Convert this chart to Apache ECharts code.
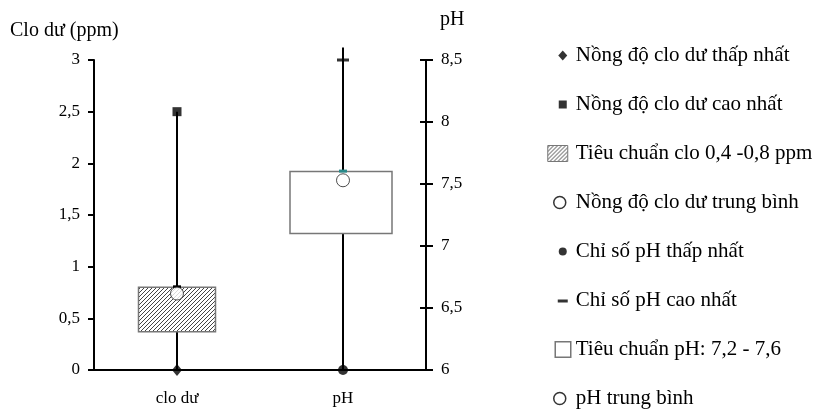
<!DOCTYPE html>
<html>
<head>
<meta charset="utf-8">
<script src="https://cdn.jsdelivr.net/npm/echarts@6/dist/echarts.min.js"></script>
<style>
  html, body { margin: 0; padding: 0; background: #fff; }
  #chart { width: 817px; height: 410px; }
</style>
</head>
<body>
<div id="chart"></div>
<script>
// categories on the x axis
const categories = ["clo dư", "pH"];

// chlorine (ppm, left axis)
const cloMin = 0;
const cloMax = 2.5;
const cloStandard = [0.37, 0.8];
const cloMean = 0.74;

// pH (right axis)
const phMin = 6;
const phMax = 8.5;
const phWhiskerTop = 8.6;
const phStandard = [7.1, 7.6];
const phMean = 7.53;

// legend labels
const legendNames = [
  "Nồng độ clo dư thấp nhất",
  "Nồng độ clo dư cao nhất",
  "Tiêu chuẩn clo 0,4 -0,8 ppm",
  "Nồng độ clo dư trung bình",
  "Chỉ số pH thấp nhất",
  "Chỉ số pH cao nhất",
  "Tiêu chuẩn pH: 7,2 - 7,6",
  "pH trung bình",
];

const FONT = "Liberation Serif";

// hatch pattern for the chlorine standard box
const hatch = document.createElement("canvas");
hatch.width = 4;
hatch.height = 4;
const hctx = hatch.getContext("2d");
hctx.fillStyle = "#fff";
hctx.fillRect(0, 0, 4, 4);
hctx.strokeStyle = "#444";
hctx.lineWidth = 1;
hctx.beginPath();
hctx.moveTo(0, 4); hctx.lineTo(4, 0);
hctx.moveTo(-1, 1); hctx.lineTo(1, -1);
hctx.moveTo(3, 5); hctx.lineTo(5, 3);
hctx.stroke();
const hatchFill = { image: hatch, repeat: "repeat" };

const chart = echarts.init(document.getElementById("chart"));

const comma = (v) => String(v).replace(".", ",");

// box renderer with small cap on top
function boxRender(width, shift, fill, capColor) {
  return function (params, api) {
    const x = api.value(0);
    const lo = api.coord([x, api.value(1)]);
    const hi = api.coord([x, api.value(2)]);
    return {
      type: "group",
      children: [
        {
          type: "rect",
          shape: { x: lo[0] - width / 2 + shift, y: hi[1], width: width, height: lo[1] - hi[1] },
          style: { fill: fill, stroke: "#777", lineWidth: 1.5 },
        },
        {
          type: "rect",
          shape: { x: hi[0] - 4, y: hi[1] - 2, width: 8, height: 3 },
          style: { fill: capColor },
        },
      ],
    };
  };
}

// legend icons (32x18 box, invisible corners keep the size)
const pad = "M0,0M32,18";
const icons = [
  "path://" + pad + "M24,4L28.5,9L24,14L19.5,9Z",
  "path://" + pad + "M20,5h8v8h-8Z",
  "path://" + pad + "M9,1h20v16h-20Z",
  "path://" + pad + "M15,9a6,6 0 1,0 12,0a6,6 0 1,0 -12,0Z",
  "path://" + pad + "M20,9a4,4 0 1,0 8,0a4,4 0 1,0 -8,0Z",
  "path://" + pad + "M19,8h10v3h-10Z",
  "path://" + pad + "M17,1h16v16h-16Z",
  "path://" + pad + "M15,9a6,6 0 1,0 12,0a6,6 0 1,0 -12,0Z",
];
const iconStyles = [
  { color: "#000", borderWidth: 0 },
  { color: "#000", borderWidth: 0 },
  { color: hatchFill, borderColor: "#777", borderWidth: 1 },
  { color: "#fff", borderColor: "#000", borderWidth: 1.5 },
  { color: "#000", borderWidth: 0 },
  { color: "#000", borderWidth: 0 },
  { color: "#fff", borderColor: "#777", borderWidth: 1.5 },
  { color: "#fff", borderColor: "#000", borderWidth: 1.5 },
];

const axisLabelStyle = { fontFamily: FONT, fontSize: 17, color: "#000" };
const titleStyle = { fontFamily: FONT, fontSize: 20, fontWeight: "normal", color: "#000" };

const option = {
  animation: false,
  title: [
    { text: "Clo dư (ppm)", left: 5, top: 16, textStyle: titleStyle },
    { text: "pH", left: 435, top: 5, textStyle: titleStyle },
  ],
  legend: {
    orient: "vertical",
    left: 538,
    top: 45,
    padding: 0,
    itemWidth: 32,
    itemHeight: 18,
    itemGap: 28,
    selectedMode: false,
    textStyle: { fontFamily: FONT, fontSize: 21, color: "#000", lineHeight: 21 },
    data: legendNames.map((n, i) => ({ name: n, icon: icons[i], itemStyle: iconStyles[i] })),
  },
  grid: { left: 94, right: 391, top: 60, bottom: 40 },
  xAxis: {
    type: "category",
    data: categories,
    boundaryGap: true,
    axisLine: { lineStyle: { color: "#000", width: 2 } },
    axisTick: { length: 6, lineStyle: { color: "#000", width: 2 } },
    axisLabel: Object.assign({ margin: 20 }, axisLabelStyle),
  },
  yAxis: [
    {
      type: "value",
      position: "left",
      min: 0,
      max: 3,
      interval: 0.5,
      splitLine: { show: false },
      axisLine: { show: true, lineStyle: { color: "#000", width: 2 } },
      axisTick: { show: true, length: 6, lineStyle: { color: "#000", width: 2 } },
      axisLabel: Object.assign({ margin: 14, formatter: comma }, axisLabelStyle),
    },
    {
      type: "value",
      position: "right",
      min: 6,
      max: 8.5,
      interval: 0.5,
      splitLine: { show: false },
      axisLine: { show: true, lineStyle: { color: "#000", width: 2 } },
      axisTick: { show: true, length: 7, lineStyle: { color: "#000", width: 2 } },
      axisLabel: Object.assign({ margin: 15, formatter: comma }, axisLabelStyle),
    },
    {
      type: "value",
      position: "right",
      min: 6,
      max: 8.5,
      interval: 0.5,
      splitLine: { show: false },
      axisLine: { show: false },
      axisTick: { show: true, inside: true, length: 6, lineStyle: { color: "#000", width: 2 } },
      axisLabel: { show: false },
    },
  ],
  series: [
    // whiskers
    {
      type: "line",
      yAxisIndex: 0,
      z: 1,
      data: [[categories[0], cloMin], [categories[0], cloMax]],
      showSymbol: false,
      lineStyle: { color: "#000", width: 2 },
      silent: true,
    },
    {
      type: "line",
      yAxisIndex: 1,
      z: 1,
      clip: false,
      data: [[categories[1], phMin], [categories[1], phWhiskerTop]],
      showSymbol: false,
      lineStyle: { color: "#000", width: 2 },
      silent: true,
    },
    // boxes
    {
      name: legendNames[2],
      type: "custom",
      yAxisIndex: 0,
      z: 3,
      renderItem: boxRender(77, 0, hatchFill, "#000"),
      encode: { x: 0, y: [1, 2] },
      data: [[categories[0], cloStandard[0], cloStandard[1]]],
    },
    {
      name: legendNames[6],
      type: "custom",
      yAxisIndex: 1,
      z: 3,
      renderItem: boxRender(102, -2, "#fff", "#2a8a8a"),
      encode: { x: 0, y: [1, 2] },
      data: [[categories[1], phStandard[0], phStandard[1]]],
    },
    // markers
    {
      name: legendNames[0],
      type: "scatter",
      yAxisIndex: 0,
      z: 5,
      symbol: "diamond",
      symbolSize: [10, 12],
      itemStyle: { color: "#000" },
      data: [[categories[0], cloMin]],
    },
    {
      name: legendNames[1],
      type: "scatter",
      yAxisIndex: 0,
      z: 5,
      symbol: "rect",
      symbolSize: 9,
      itemStyle: { color: "#000" },
      data: [[categories[0], cloMax]],
    },
    {
      name: legendNames[3],
      type: "scatter",
      yAxisIndex: 0,
      z: 5,
      symbol: "circle",
      symbolSize: 13,
      itemStyle: { color: "#fff", borderColor: "#222", borderWidth: 1 },
      data: [[categories[0], cloMean]],
    },
    {
      name: legendNames[4],
      type: "scatter",
      yAxisIndex: 1,
      z: 5,
      symbol: "circle",
      symbolSize: 10,
      itemStyle: { color: "#000" },
      data: [[categories[1], phMin]],
    },
    {
      name: legendNames[5],
      type: "scatter",
      yAxisIndex: 1,
      z: 5,
      symbol: "rect",
      symbolSize: [12, 3],
      itemStyle: { color: "#000" },
      data: [[categories[1], phMax]],
    },
    {
      name: legendNames[7],
      type: "scatter",
      yAxisIndex: 1,
      z: 5,
      symbol: "circle",
      symbolSize: 13,
      itemStyle: { color: "#fff", borderColor: "#222", borderWidth: 1 },
      data: [[categories[1], phMean]],
    },
  ],
};

chart.setOption(option);
</script>
</body>
</html>
